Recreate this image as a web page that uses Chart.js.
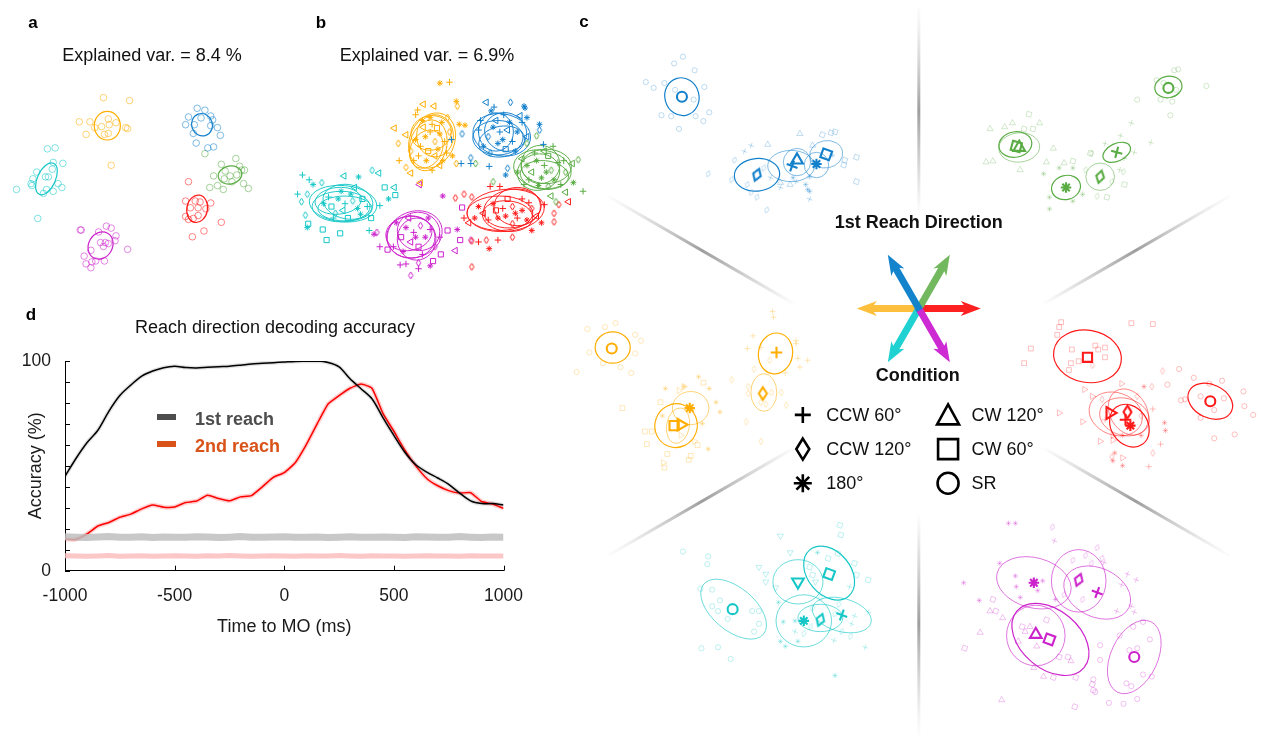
<!DOCTYPE html>
<html>
<head>
<meta charset="utf-8">
<script src="https://cdn.jsdelivr.net/npm/chart.js@4.4.1/dist/chart.umd.min.js"></script>
<style>
body{margin:0;background:#fff;font-family:"Liberation Sans",Arial,Helvetica,sans-serif;}
#fig{position:relative;width:1264px;height:741px;overflow:hidden;background:#fff}
#fig canvas{position:absolute}
.t{position:absolute;transform:translate(-50%,-50%);white-space:nowrap;color:#111;font-size:18px}
.pl{position:absolute;transform:translate(-50%,-50%);font-weight:bold;font-size:17px;color:#000}
</style>
</head>
<body>
<div id="fig">
  <canvas id="cvA" width="290" height="290" style="left:0;top:0"></canvas>
  <canvas id="cvB" width="310" height="230" style="left:280px;top:60px"></canvas>
  <canvas id="cvC" width="704" height="741" style="left:560px;top:0"></canvas>
  <canvas id="cvD" width="545" height="345" style="left:0;top:300px"></canvas>

  <div class="pl" style="left:33px;top:23px">a</div>
  <div class="pl" style="left:321px;top:23px">b</div>
  <div class="pl" style="left:584px;top:22px">c</div>
  <div class="pl" style="left:31px;top:315px">d</div>
  <div class="t" style="left:152px;top:55px">Explained var. = 8.4 %</div>
  <div class="t" style="left:427px;top:55px">Explained var. = 6.9%</div>
  <div class="t" style="left:275px;top:327px">Reach direction decoding accuracy</div>
</div>

<script>
const FONT='"Liberation Sans", Arial, Helvetica, sans-serif';
Chart.defaults.font.family=FONT;

const COL={blue:'#1380cc',green:'#5aac44',red:'#ff1a1a',cyan:'#17c7c7',magenta:'#cc22cc',orange:'#ffad00'};

/* ===== PANEL A : trial scores, SR condition only ===== */
const aPtsOrange=[[102,96],[129,99],[77,121],[88,121],[100,126],[108,124],[115,122],[107,118],[93,127],[125,127],[127,128],[84,134],[103,134],[107,133],[110,166]];
const aPtsBlue=[[199,107],[207,109],[213,115],[190,116],[203,117],[215,119],[187,124],[196,124],[213,125],[220,127],[195,133],[223,135],[198,143],[210,148],[216,147]];
const aPtsGreen=[[207,154],[239,159],[224,165],[243,167],[245,171],[228,172],[216,177],[233,177],[240,176],[248,171],[227,180],[235,183],[220,187],[226,191],[247,185],[252,190],[212,189]];
const aPtsRed=[[190,183],[213,205],[197,203],[202,204],[187,203],[192,210],[200,210],[208,211],[187,219],[195,221],[190,222],[224,225],[194,240],[206,234],[200,218]];
const aPtsCyan=[[44,149],[52,148],[60,164],[50,163],[33,173],[42,178],[45,178],[49,170],[29,180],[27,185],[28,187],[43,191],[50,193],[55,185],[59,189],[12,191],[34,221],[40,195]];
const aPtsMagenta=[[78,233],[79,233],[105,229],[110,231],[97,235],[115,239],[114,244],[99,246],[104,246],[107,247],[89,254],[82,260],[102,250],[127,253],[84,268],[89,272],[94,265],[103,265],[90,266]];
// [colour, cx, cy, rx, ry, tilt deg]
const aEllipses=[['orange',106,125,13.5,14.8,0],['blue',204,124,10.7,11.7,-20],['green',233,176,12.3,9.3,-10],
  ['red',199,211,10.7,14.3,10],['cyan',43,180,9.3,17.7,25],['magenta',99,249,12.3,14.7,30]];

/* ===== PANEL B : all conditions (p=+, d=diamond, s=*, t=triangle, q=square) ===== */
const bPtsOrange=[[160,19,'s'],[170,18,'p'],[143,41,'t'],[154,43,'t'],[177,38,'s'],[178,43,'d'],[135,52,'p'],[137,47,'p'],[113,66,'t'],[125,73,'t'],[117,82,'d'],[118,100,'p'],[125,107,'d'],[130,113,'t'],[140,123,'t'],[180,62,'s'],[186,63,'s'],[177,103,'d'],[160,105,'t'],[152,110,'p'],[173,95,'s'],
  [150,70,'p'],[145,75,'s'],[155,80,'d'],[160,72,'s'],[140,85,'p'],[148,90,'q'],[158,88,'s'],[152,62,'p'],[143,65,'t'],[165,80,'p'],[135,78,'s'],[155,95,'t'],[162,60,'s'],[170,70,'d'],[138,95,'p'],[146,100,'s'],[130,90,'d'],[167,92,'p'],[150,55,'s'],[157,66,'q'],[142,58,'s'],[163,100,'s'],[133,100,'p'],[168,55,'d']];
const bPtsBlue=[[208,39,'t'],[216,44,'p'],[233,39,'d'],[247,43,'s'],[248,45,'s'],[250,55,'s'],[263,62,'s'],[263,68,'d'],[172,78,'p'],[183,72,'d'],[192,97,'d'],[182,103,'p'],[192,103,'p'],[211,106,'p'],[228,115,'s'],[230,108,'d'],[243,53,'t'],[267,83,'p'],
  [215,65,'s'],[222,70,'p'],[230,68,'t'],[225,78,'s'],[210,75,'d'],[235,80,'p'],[240,70,'s'],[218,58,'t'],[228,88,'q'],[205,85,'s'],[245,60,'p'],[212,92,'d'],[232,60,'s'],[250,75,'t'],[200,68,'p'],[220,82,'s'],[238,90,'s'],[202,58,'p'],[213,48,'s'],[226,52,'p']];
const bPtsGreen=[[277,85,'p'],[268,90,'t'],[260,74,'d'],[250,82,'d'],[197,103,'d'],[303,99,'d'],[297,103,'t'],[308,132,'p'],[290,133,'t'],[298,123,'s'],[280,143,'d'],[275,137,'t'],[272,127,'d'],[215,122,'d'],[247,125,'p'],
  [260,100,'s'],[268,105,'p'],[275,110,'d'],[255,112,'t'],[265,118,'s'],[282,102,'p'],[250,105,'s'],[272,95,'q'],[290,112,'d'],[258,92,'p'],[278,120,'s'],[245,98,'t'],[285,125,'p'],[262,126,'s'],[270,112,'s'],[288,100,'p'],[240,112,'s'],[252,120,'p']];
const bPtsRed=[[185,135,'d'],[193,138,'d'],[212,127,'p'],[222,127,'p'],[176,139,'d'],[185,160,'p'],[190,165,'t'],[208,183,'d'],[193,184,'d'],[200,185,'p'],[220,183,'p'],[211,192,'s'],[193,211,'d'],[235,180,'d'],[255,173,'s'],[265,165,'s'],[283,146,'d'],[278,155,'d'],[278,164,'d'],[293,143,'t'],[268,146,'p'],
  [215,145,'s'],[225,150,'p'],[235,148,'d'],[245,152,'s'],[205,155,'t'],[220,160,'s'],[240,160,'p'],[255,150,'d'],[230,140,'q'],[210,162,'p'],[250,162,'s'],[260,158,'t'],[200,148,'s'],[235,166,'d'],[245,140,'p'],[218,152,'q'],[228,158,'s'],[238,155,'s'],[252,144,'p'],[196,160,'s']];
const bPtsCyan=[[18,115,'p'],[25,120,'p'],[13,135,'p'],[23,135,'d'],[17,143,'d'],[21,157,'d'],[24,166,'q'],[23,170,'s'],[39,172,'q'],[43,183,'q'],[57,176,'q'],[61,116,'t'],[76,117,'s'],[90,110,'d'],[97,113,'t'],[103,128,'q'],[113,128,'t'],[114,136,'q'],[107,140,'s'],[98,147,'p'],[89,160,'q'],[87,173,'p'],[38,123,'d'],[29,125,'s'],
  [55,140,'s'],[62,145,'p'],[70,142,'d'],[48,148,'q'],[75,150,'s'],[60,152,'t'],[45,138,'p'],[68,135,'s'],[80,140,'q'],[52,155,'d'],[85,148,'p'],[40,145,'s'],[65,160,'q'],[72,128,'t'],[58,132,'s'],[78,156,'s'],[50,160,'p']];
const bPtsMagenta=[[139,125,'t'],[163,137,'s'],[183,149,'q'],[92,177,'s'],[95,175,'d'],[98,190,'p'],[106,193,'q'],[119,209,'p'],[125,208,'p'],[130,220,'d'],[138,213,'p'],[138,207,'d'],[150,210,'s'],[153,205,'q'],[161,198,'q'],[168,173,'q'],[178,172,'s'],[181,183,'q'],[176,194,'t'],[192,183,'d'],
  [125,170,'s'],[133,175,'p'],[140,168,'d'],[120,180,'q'],[145,180,'s'],[130,185,'t'],[150,172,'p'],[115,165,'s'],[138,190,'q'],[155,190,'d'],[112,190,'p'],[128,160,'t'],[148,160,'s'],[160,180,'p'],[135,180,'s'],[122,195,'s'],[142,198,'p']];
// [cx, cy, rx, ry, tilt]
const bEllOrange=[[152,79,23,30,25],[148,84,19,27,15],[155,74,19,22,0],[146,88,16,21,30],[151,71,21,18,-10]];
const bEllBlue=[[224,73,30,22,10],[220,76,26,18,0],[228,70,22,20,20],[224,80,24,16,-10],[218,70,18,20,0]];
const bEllGreen=[[266,109,30,20,10],[270,106,26,18,0],[262,112,22,19,-10],[268,115,25,15,5],[264,104,20,20,0]];
const bEllRed=[[228,152,40,22,-5],[222,155,34,18,0],[235,150,30,20,-10],[230,158,26,16,5],[240,148,24,20,0]];
const bEllCyan=[[60,145,35,19,5],[58,148,30,16,0],[65,143,26,18,10],[55,142,24,14,-5],[62,150,28,13,0]];
const bEllMagenta=[[134,177,29,24,-20],[130,180,25,22,0],[138,174,22,20,10],[128,176,24,18,-10],[136,182,20,22,0]];

/* ===== PANEL C : one cluster per 1st reach direction ===== */
// m = condition mean, e = [cx, cy, rx, ry, tilt, strength], p = single trials
const cBlue=[
  {c:'sr',m:[676,90],e:[676,90,17.5,19.5,-15,1],p:[[668,56],[677,49],[689,63],[639,75],[647,81],[658,76],[669,83],[688,93],[699,80],[655,109],[665,110],[690,110],[698,115],[704,106],[673,123]]},
  {c:'ccw120',m:[753,170],e:[753,170,23.3,16.7,-5,1],p:[[703,169],[730,155],[727,175],[743,180],[753,193],[763,206],[747,188],[760,163]]},
  {c:'cw120',m:[794,155],e:[794,157,14,14,0,0.6],p:[[797,128],[764,139],[787,180],[810,140],[777,178]]},
  {c:'ccw60',m:[789,161],e:[788,161,24,16,0,0.6],p:[[740,146],[747,140],[767,173],[777,183],[807,195],[793,177]]},
  {c:'r180',m:[814,159],e:[814,160,12.5,13,0,0.6],p:[[803,180],[805,185],[807,187],[790,173],[830,150],[807,172]]},
  {c:'cw60',m:[824,149],e:[824,149,17,14,-10,0.6],p:[[820,129],[829,127],[833,126],[842,160],[855,152],[855,177],[843,155]]}
];
const cGreen=[
  {c:'sr',m:[1175,81],e:[1175,80,14,11,-10,1],p:[[1181,63],[1185,62],[1163,73],[1170,76],[1183,83],[1167,93],[1179,95],[1177,109],[1143,93],[1214,79]]},
  {c:'cw120',m:[1022,142],e:[1022,142,21,15,-5,0.6],p:[[992,123],[1007,121],[1015,117],[1043,117],[1057,143],[988,157],[995,156],[1023,165],[1050,157],[1068,158]]},
  {c:'cw60',m:[1019,141],e:[1018,139,17,13,-10,1],p:[[1032,108],[1036,123],[1027,123],[1077,156],[1095,148],[1130,180],[1112,193]]},
  {c:'ccw60',m:[1122,147],e:[1122,147,15,9,-25,1],p:[[1137,117],[1126,130],[1110,138],[1157,137],[1140,147],[1130,153],[1125,165]]},
  {c:'ccw120',m:[1105,172],e:[1105,172,14.7,14,0,0.6],p:[[1096,148],[1117,177],[1102,192],[1129,167],[1090,165]]},
  {c:'r180',m:[1070,183],e:[1070,183,15,12.3,-15,1],p:[[1047,169],[1053,193],[1077,197],[1053,205],[1087,190],[1063,163],[1077,163]]}
];
const cOrange=[
  {c:'sr',m:[604,348],e:[605,347,18,16,0,1],p:[[579,328],[597,326],[608,322],[628,334],[634,340],[628,353],[613,367],[624,373],[568,372],[581,352],[595,363]]},
  {c:'ccw60',m:[773,352],e:[772,353,17.5,21,10,1],p:[[769,310],[770,316],[749,335],[743,348],[793,340],[793,343],[795,358],[805,360],[797,367],[782,373],[757,347]]},
  {c:'ccw120',m:[759,394],e:[760,393,13.3,19.3,0,0.6],p:[[727,380],[750,369],[744,387],[744,394],[757,403],[762,405],[768,393],[778,393],[783,406],[742,423],[757,443],[766,360]]},
  {c:'r180',m:[684,409],e:[685,409,18.7,17,0,0.6],p:[[659,389],[693,377],[704,389],[711,403],[715,413],[697,425],[703,451],[656,417],[678,387]]},
  {c:'cw120',m:[675,426],e:[672,427,11.7,18.3,10,0.6],p:[[678,387],[673,391],[657,465],[675,437],[689,443]]},
  {c:'cw60',m:[668,427],e:[670,427,21.7,22.5,20,1],p:[[615,409],[638,433],[645,433],[640,446],[661,456],[685,458],[683,462],[658,470],[654,403],[698,383],[692,447]]}
];
const cRed=[
  {c:'cw60',m:[1092,357],e:[1092,356,35,26.7,10,1],p:[[1065,321],[1063,326],[1061,334],[1034,348],[1027,363],[1076,349],[1083,361],[1073,370],[1100,345],[1103,349],[1110,347],[1110,357],[1137,322],[1159,323],[1075,363]]},
  {c:'cw120',m:[1115,414],e:[1121,415,28,21.7,20,0.6],p:[[1127,384],[1089,390],[1097,397],[1063,414],[1087,423],[1118,437],[1118,442],[1105,443],[1128,460]]},
  {c:'ccw60',m:[1131,421],e:[1130,418,26,19,15,0.6],p:[[1159,410],[1167,446],[1155,469],[1110,421],[1135,410]]},
  {c:'ccw120',m:[1133,413],e:[1134,413,19,25,-30,0.6],p:[[1097,365],[1107,400],[1143,397],[1158,387],[1169,371],[1159,455],[1117,459],[1147,417]]},
  {c:'r180',m:[1136,427],e:[1135,427,18.7,23.3,-35,1],p:[[1150,387],[1128,437],[1147,437],[1171,424],[1172,432],[1118,463],[1128,468],[1120,455]]},
  {c:'sr',m:[1218,402],e:[1218,402,24,17,25,1],p:[[1186,369],[1201,378],[1217,384],[1230,381],[1174,385],[1192,400],[1188,401],[1208,397],[1232,399],[1252,392],[1253,407],[1262,416],[1222,411],[1243,436],[1222,440],[1208,419]]}
];
const cCyan=[
  {c:'sr',m:[728,615],e:[729,615,40,22,40,0.7],p:[[677,556],[703,561],[702,569],[695,594],[707,595],[707,612],[715,606],[713,617],[723,625],[748,617],[755,617],[750,638],[755,630],[696,655],[713,654],[726,666]]},
  {c:'cw120',m:[795,587],e:[795,587,25.7,22.7,0,0.7],p:[[777,540],[755,572],[762,579],[762,587],[787,557],[813,587],[772,593]]},
  {c:'cw60',m:[827,579],e:[827,578,31,22,50,1],p:[[838,529],[839,539],[826,563],[807,572],[810,580],[853,568],[867,585],[855,580],[836,558]]},
  {c:'r180',m:[801,627],e:[801,627,28.5,26.7,0,0.7],p:[[780,628],[777,648],[795,648],[815,557],[775,608],[833,683],[792,627],[782,653]]},
  {c:'ccw120',m:[818,626],e:[818,624,23,14,0,0.7],p:[[801,640],[808,633],[810,614],[818,603],[833,620],[837,610],[849,643],[840,638]]},
  {c:'ccw60',m:[840,621],e:[840,621,31,17,15,0.7],p:[[848,592],[853,622],[867,618],[864,654],[850,630],[832,647],[792,638]]}
];
const cMagenta=[
  {c:'r180',m:[1037,588],e:[1037,588,39,25.7,15,0.7],p:[[1011,527],[1018,527],[1002,568],[1018,581],[1019,592],[1023,603],[965,588],[981,606],[1046,586],[1041,596],[1059,605]]},
  {c:'ccw120',m:[1083,585],e:[1083,586,28,32,0,0.7],p:[[1056,531],[1102,552],[1077,565],[1090,560],[1107,563],[1096,568],[1068,600],[1087,605]]},
  {c:'ccw60',m:[1102,598],e:[1102,598,36,25,25,0.7],p:[[1058,545],[1109,567],[1133,579],[1142,585],[1127,590],[1137,612],[1140,618],[1122,617]]},
  {c:'cw120',m:[1039,641],e:[1039,642,30,31,0,0.7],p:[[992,617],[1005,624],[982,639],[1033,633],[1028,638],[1021,648],[1040,653],[1075,668],[1047,684],[1037,675],[1004,708]]},
  {c:'cw60',m:[1053,646],e:[1054,646,45,30,40,1],p:[[1025,633],[1050,626],[1063,664],[1072,664],[1080,685],[1097,692],[1098,698],[1079,715],[1057,685],[966,655],[995,605],[998,617]]},
  {c:'sr',m:[1140,664],e:[1140,664,24,40,25,0.7],p:[[1125,642],[1139,633],[1149,628],[1156,646],[1135,657],[1143,655],[1149,682],[1158,684],[1132,691],[1137,694],[1105,652],[1105,667],[1114,711],[1129,712],[1143,707],[1100,700],[1098,687]]}
];
// colour, marker tilt, triangle orientation
const cClusters=[[cBlue,'blue',20,0],[cGreen,'green',15,0],[cOrange,'orange',0,90],[cRed,'red',0,90],[cCyan,'cyan',20,180],[cMagenta,'magenta',20,0]];
const reachDirs=[180,0,240,60,300,120];  // deg, drawing order of the direction arrows
const reachDirColors={0:'#ff2121',60:'#72b85e',120:'#1384cc',180:'#fec03c',240:'#1fd1d1',300:'#cd2ad4'};
const legendConds=['ccw60','ccw120','r180','cw120','cw60','sr'];
const legendLabels=['CCW 60°','CCW 120°','180°','CW 120°','CW 60°','SR'];

/* ===== PANEL D : decoding accuracy ===== */
const timeMs=[-1000,-950,-900,-850,-800,-750,-700,-650,-600,-550,-500,-450,-400,-350,-300,-250,-200,-150,-100,-50,0,50,100,150,200,250,300,350,400,450,500,550,600,650,700,750,800,850,900,950,1000];
const accFirst=[45,53.5,61,67,76,83.5,88.5,92.8,95.2,96.8,97.5,96.9,96.7,97,97.3,97.5,98,98.6,98.9,99.2,99.5,99.8,99.9,100,99.3,97.2,91.5,86.8,82,73,64.5,56.5,50.5,47,44.2,41.2,37,33.3,32,32,31.3];
const accSecond=[15,15,17.5,21.3,23,25.5,27,29.5,31.3,30.3,30.4,32.5,33.2,36,34.4,33.3,35.2,35.8,40,44.5,46.8,51.5,60,70,79.5,83.5,87,89,87,75,66.5,57.5,50,44,40.5,38.2,37,37.2,33,31.8,29.7];
const chanceFirst=[16.2,16,15.8,16.1,16.3,15.9,16,16.2,15.8,16.1,16,15.9,16.2,16.1,15.8,16,16.3,16,15.9,16.1,16.2,15.9,16,16.1,15.8,16,16.2,16,15.9,16.1,16,15.8,16.2,16.1,15.9,16,16.3,16,15.8,16.1,16];
const chanceSecond=[7.1,7,6.9,7,7.2,6.9,7,7.1,6.9,7,7.1,7,6.9,7.1,7,7.2,7,6.9,7,7.1,7,6.9,7.1,7,7,7.2,7,6.9,7.1,7,7,6.9,7,7.1,7,7,6.9,7.1,7,7,7];

/* ===== UTILS ===== */
function rgba(hex,a){
  const n=parseInt(hex.slice(1),16);
  return `rgba(${n>>16},${(n>>8)&255},${n&255},${a})`;
}
const diamondCache={};
function diamond(color,w,h,lw){
  const key=[color,w,h,lw].join('|');
  if(diamondCache[key]) return diamondCache[key];
  const c=document.createElement('canvas');
  c.width=Math.ceil(w+lw*2+2); c.height=Math.ceil(h+lw*2+2);
  const g=c.getContext('2d'), cx=c.width/2, cy=c.height/2;
  g.strokeStyle=color; g.lineWidth=lw; g.lineJoin='miter';
  g.beginPath();
  g.moveTo(cx,cy-h/2); g.lineTo(cx+w/2,cy); g.lineTo(cx,cy+h/2); g.lineTo(cx-w/2,cy); g.closePath();
  g.stroke();
  return diamondCache[key]=c;
}
// point options for one condition marker
function marker(cond,color,r,lw,tilt,triRot){
  const base={pointBorderColor:color,pointBackgroundColor:'rgba(0,0,0,0)',pointBorderWidth:lw,pointRotation:0,pointRadius:r};
  switch(cond){
    case 'sr':     return {...base,pointStyle:'circle'};
    case 'ccw60':  return {...base,pointStyle:'cross',pointRadius:r*1.15,pointRotation:tilt};
    case 'ccw120': return {...base,pointStyle:diamond(color,r*1.6,r*2.5,lw),pointRotation:tilt};
    case 'r180':   return {...base,pointStyle:'star',pointRadius:r*1.05};
    case 'cw120':  return {...base,pointStyle:'triangle',pointRadius:r*1.35,pointRotation:triRot};
    case 'cw60':   return {...base,pointStyle:'rect',pointRadius:r*1.3,pointRotation:tilt};
  }
}
const xy=pts=>pts.map(p=>({x:p[0],y:p[1]}));
const ell=(color,e,lw,alpha)=>({cx:e[0],cy:e[1],rx:e[2],ry:e[3],ang:e[4],color:rgba(color,alpha),lw});

const ellipsePlugin={
  id:'ellipses',
  beforeDatasetsDraw(chart,args,opts){
    const {ctx,scales:{x,y}}=chart;
    ctx.save();
    (opts.items||[]).forEach(it=>{
      const px=x.getPixelForValue(it.cx), py=y.getPixelForValue(it.cy);
      const rx=Math.abs(x.getPixelForValue(it.cx+it.rx)-px), ry=Math.abs(y.getPixelForValue(it.cy+it.ry)-py);
      ctx.beginPath();
      ctx.ellipse(px,py,rx,ry,it.ang*Math.PI/180,0,2*Math.PI);
      ctx.strokeStyle=it.color; ctx.lineWidth=it.lw; ctx.stroke();
    });
    ctx.restore();
  }
};

function scatterPanel(id,xr,yr,datasets,ellipses,extra){
  return new Chart(document.getElementById(id),{
    type:'scatter',
    data:{datasets},
    options:{
      responsive:false,animation:false,events:[],
      layout:{padding:0},
      plugins:{legend:{display:false},tooltip:{enabled:false},ellipses:{items:ellipses}},
      scales:{
        x:{type:'linear',display:false,min:xr[0],max:xr[1]},
        y:{type:'linear',display:false,min:yr[0],max:yr[1],reverse:true}
      }
    },
    plugins:(extra||[]).concat([ellipsePlugin])
  });
}

/* ===== BUILD A ===== */
const aSets=[['orange',aPtsOrange],['blue',aPtsBlue],['green',aPtsGreen],['red',aPtsRed],['cyan',aPtsCyan],['magenta',aPtsMagenta]]
  .map(([c,pts])=>({data:xy(pts),clip:false,...marker('sr',rgba(COL[c],0.6),3.3,0.9,0,0)}));
scatterPanel('cvA',[0,290],[0,290],aSets,aEllipses.map(e=>ell(COL[e[0]],e.slice(1),1.2,1)));

/* ===== BUILD B ===== */
const bCode={p:'ccw60',d:'ccw120',s:'r180',t:'cw120',q:'cw60'};
const bSets=[],bEll=[];
[['orange',bPtsOrange,bEllOrange],['blue',bPtsBlue,bEllBlue],['green',bPtsGreen,bEllGreen],
 ['red',bPtsRed,bEllRed],['cyan',bPtsCyan,bEllCyan],['magenta',bPtsMagenta,bEllMagenta]].forEach(([c,pts,ells])=>{
  ells.forEach(e=>bEll.push(ell(COL[c],e,1,0.95)));
  Object.keys(bCode).forEach(k=>{
    const sel=pts.filter(p=>p[2]===k);
    if(sel.length) bSets.push({data:xy(sel),clip:false,...marker(bCode[k],COL[c],2.8,1,0,-90)});
  });
});
scatterPanel('cvB',[0,310],[0,230],bSets,bEll);

/* ===== BUILD C ===== */
const HUB=[919,376], STAR=[919,307];
function legendMark(ctx,cond,x,y){
  ctx.beginPath();
  switch(cond){
    case 'ccw60': ctx.moveTo(x-8,y); ctx.lineTo(x+8,y); ctx.moveTo(x,y-8); ctx.lineTo(x,y+8); break;
    case 'ccw120': ctx.moveTo(x,y-10.5); ctx.lineTo(x+6.5,y); ctx.lineTo(x,y+10.5); ctx.lineTo(x-6.5,y); ctx.closePath(); break;
    case 'r180':
      for(let k=0;k<4;k++){const a=k*Math.PI/4; ctx.moveTo(x-9*Math.cos(a),y-9*Math.sin(a)); ctx.lineTo(x+9*Math.cos(a),y+9*Math.sin(a));}
      break;
    case 'cw120': ctx.moveTo(x,y-10.5); ctx.lineTo(x+11,y+9.5); ctx.lineTo(x-11,y+9.5); ctx.closePath(); break;
    case 'cw60': ctx.rect(x-10,y-10,20,20); break;
    case 'sr': ctx.arc(x,y,10.5,0,2*Math.PI); break;
  }
  ctx.stroke();
}
const hubPlugin={
  id:'hub',
  beforeDatasetsDraw(chart){
    const {ctx,scales:{x,y}}=chart;
    const P=(px,py)=>[x.getPixelForValue(px),y.getPixelForValue(py)];
    ctx.save();
    // spokes between the six direction sectors
    [[90,165,378],[30,145,368],[150,145,368],[210,145,368],[330,145,368],[270,140,368]].forEach(([deg,r0,r1])=>{
      const a=deg*Math.PI/180;
      const [x0,y0]=P(HUB[0]+r0*Math.cos(a),HUB[1]-r0*Math.sin(a));
      const [x1,y1]=P(HUB[0]+r1*Math.cos(a),HUB[1]-r1*Math.sin(a));
      const g=ctx.createLinearGradient(x0,y0,x1,y1);
      g.addColorStop(0,'rgba(170,170,170,0)');
      g.addColorStop(0.5,'rgba(140,140,140,0.85)');
      g.addColorStop(1,'rgba(200,200,200,0.05)');
      ctx.strokeStyle=g; ctx.lineWidth=3;
      ctx.beginPath(); ctx.moveTo(x0,y0); ctx.lineTo(x1,y1); ctx.stroke();
    });
    // direction arrows
    const [sx,sy]=P(STAR[0],STAR[1]);
    reachDirs.forEach(deg=>{
      const a=deg*Math.PI/180, len=62, head=20, hw=7.5, sw=3.5;
      ctx.save(); ctx.translate(sx,sy); ctx.rotate(-a);
      ctx.fillStyle=reachDirColors[deg];
      ctx.beginPath();
      ctx.moveTo(-2,-sw); ctx.lineTo(len-head+3,-sw); ctx.lineTo(len-head,-hw); ctx.lineTo(len,0);
      ctx.lineTo(len-head,hw); ctx.lineTo(len-head+3,sw); ctx.lineTo(-2,sw); ctx.closePath();
      ctx.fill(); ctx.restore();
    });
    // headings
    ctx.fillStyle='#111'; ctx.textAlign='center'; ctx.textBaseline='middle';
    ctx.font='bold 18px '+FONT;
    let [tx,ty]=P(919,219); ctx.fillText('1st Reach Direction',tx,ty);
    [tx,ty]=P(918,376); ctx.fillText('Condition',tx,ty);
    // condition legend
    ctx.font='18px '+FONT; ctx.textAlign='left';
    ctx.strokeStyle='#000'; ctx.lineWidth=2.6; ctx.lineJoin='miter';
    legendConds.forEach((c,i)=>{
      const col=Math.floor(i/3), row=i%3;
      const [mx,my]=P(col?949:800,[416,451,486][row]);
      legendMark(ctx,c,mx,my);
      const [lx,ly]=P(col?973:824,[417,452,487][row]);
      ctx.fillText(legendLabels[i],lx,ly);
    });
    ctx.restore();
  }
};
const cSets=[],cEll=[];
cClusters.forEach(([list,c,tilt,tri])=>{
  list.forEach(k=>{
    cEll.push(ell(COL[c],k.e,k.e[5]>0.9?1.2:0.9,k.e[5]));
    cSets.push({data:xy(k.p),clip:false,...marker(k.c,rgba(COL[c],0.35),2.6,0.8,tilt,tri)});
  });
});
cClusters.forEach(([list,c,tilt,tri])=>{
  list.forEach(k=>cSets.push({data:xy([k.m]),clip:false,...marker(k.c,COL[c],5,2.1,tilt,tri)}));
});
scatterPanel('cvC',[560,1264],[0,741],cSets,cEll,[hubPlugin]);

/* ===== BUILD D ===== */
const series=arr=>timeMs.map((t,i)=>({x:t,y:arr[i]}));
const innerTicks={
  id:'innerTicks',
  afterDraw(chart){
    const {ctx,chartArea:a,scales:{x,y}}=chart;
    ctx.save(); ctx.strokeStyle='#000'; ctx.lineWidth=1; ctx.beginPath();
    x.ticks.forEach(t=>{const p=Math.round(x.getPixelForValue(t.value))+0.5; ctx.moveTo(p,a.bottom); ctx.lineTo(p,a.bottom-5);});
    y.ticks.forEach(t=>{const p=Math.round(y.getPixelForValue(t.value))+0.5; ctx.moveTo(a.left,p); ctx.lineTo(a.left+5,p);});
    ctx.stroke(); ctx.restore();
  }
};
const legendD={
  id:'legendD',
  afterDraw(chart){
    const {ctx}=chart;
    ctx.save(); ctx.font='bold 18px '+FONT; ctx.textBaseline='middle'; ctx.textAlign='left';
    [['1st reach','#4d4d4d',117],['2nd reach','#d95319',144]].forEach(([txt,col,yy])=>{
      ctx.fillStyle=col; ctx.fillRect(157,yy-3,19,6);
      ctx.fillText(txt,195,yy+3.5);
    });
    ctx.restore();
  }
};
new Chart(document.getElementById('cvD'),{
  type:'line',
  data:{datasets:[
    {data:series(chanceSecond),borderColor:'rgba(250,185,185,0.8)',borderWidth:5,pointRadius:0,tension:0},
    {data:series(chanceFirst),borderColor:'rgba(190,190,190,0.85)',borderWidth:7,pointRadius:0,tension:0},
    {data:series(accFirst),borderColor:'rgba(0,0,0,0.12)',borderWidth:4,pointRadius:0,tension:0.3},
    {data:series(accFirst),borderColor:'#000',borderWidth:1.5,pointRadius:0,tension:0.3},
    {data:series(accSecond),borderColor:'rgba(255,0,0,0.18)',borderWidth:4.5,pointRadius:0,tension:0.15},
    {data:series(accSecond),borderColor:'#ff0000',borderWidth:1.5,pointRadius:0,tension:0.15}
  ]},
  options:{
    responsive:false,animation:false,events:[],
    layout:{padding:{top:61,right:41.5,left:0,bottom:0}},
    plugins:{legend:{display:false},tooltip:{enabled:false}},
    scales:{
      x:{type:'linear',min:-1000,max:1000,
        ticks:{stepSize:500,autoSkip:false,maxRotation:0,padding:15,color:'#1a1a1a',font:{size:17.5},callback:v=>String(v)},
        grid:{display:false,drawTicks:false},border:{color:'#000',width:1},
        title:{display:true,text:'Time to MO (ms)',color:'#1a1a1a',font:{size:18},padding:{bottom:7,top:0}},
        afterFit(s){s.height=74.3;}},
      y:{min:0,max:100,
        ticks:{stepSize:10,autoSkip:false,padding:14,color:'#1a1a1a',font:{size:17.5},callback:v=>(v===0||v===100)?String(v):''},
        grid:{display:false,drawTicks:false},border:{color:'#000',width:1},
        title:{display:true,text:'Accuracy (%)',color:'#1a1a1a',font:{size:18},padding:{top:25,bottom:0}},
        afterFit(s){s.width=65;}}
    }
  },
  plugins:[innerTicks,legendD]
});
</script>
</body>
</html>
